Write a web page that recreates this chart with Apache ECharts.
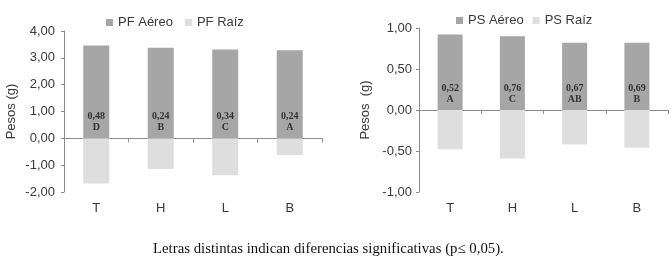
<!DOCTYPE html>
<html><head><meta charset="utf-8">
<script src="https://cdn.jsdelivr.net/npm/echarts@6/dist/echarts.min.js"></script>
<style>html,body{margin:0;padding:0;background:#fff}#c{width:672px;height:266px}</style>
</head><body><div id="c"></div>
<script>
const categories = ['T', 'H', 'L', 'B'];
const pfAereo = [3.46, 3.38, 3.31, 3.28];
const pfRaiz = [-1.68, -1.14, -1.38, -0.62];
const pfLabels = ['0,48\nD', '0,24\nB', '0,34\nC', '0,24\nA'];
const psAereo = [0.92, 0.90, 0.82, 0.82];
const psRaiz = [-0.48, -0.59, -0.42, -0.46];
const psLabels = ['0,52\nA', '0,76\nC', '0,67\nAB', '0,69\nB'];
const caption = 'Letras distintas indican diferencias significativas (p\u2264 0,05).';

const DARK = '#a6a6a6', LIGHT = '#dedede', AX = '#8c8c8c', TXT = '#3a3a3a';
const fmt = v => v.toFixed(2).replace('.', ',');
const chart = echarts.init(document.getElementById('c'));

function xAxes(gi) {
  return [
    { type: 'category', gridIndex: gi, data: categories,
      axisLine: { onZero: true, lineStyle: { color: AX } },
      axisTick: { show: true, length: 4, lineStyle: { color: AX } },
      axisLabel: { show: false } },
    { type: 'category', gridIndex: gi, data: categories, position: 'bottom',
      axisLine: { show: false, onZero: false }, axisTick: { show: false },
      axisLabel: { margin: 10, fontSize: 13, color: TXT, fontFamily: 'Liberation Sans' } }
  ];
}
function yAxis(gi, min, max, interval, name, gap, margin) {
  return { type: 'value', gridIndex: gi, min, max, interval, name,
    nameLocation: 'middle', nameGap: gap,
    nameTextStyle: { fontSize: 13, color: TXT, fontFamily: 'Liberation Sans' },
    splitLine: { show: false },
    axisLine: { show: true, lineStyle: { color: AX } },
    axisTick: { show: true, length: 3, lineStyle: { color: AX } },
    axisLabel: { formatter: fmt, fontSize: 13, color: TXT, margin, fontFamily: 'Liberation Sans' } };
}
function labelSeries(labels) {
  return { show: true, position: 'insideBottom', distance: 5,
    formatter: p => labels[p.dataIndex],
    fontFamily: 'Liberation Serif', fontWeight: 'bold', fontSize: 10, lineHeight: 11, color: '#333' };
}

chart.setOption({
  animation: false,
  grid: [
    { left: 64, right: 350, top: 31, bottom: 74 },
    { left: 419, right: 4, top: 28, bottom: 74 }
  ],
  legend: [
    { data: ['PF Aéreo', 'PF Raíz'], left: 106, top: 16, padding: 0, icon: 'rect', itemWidth: 7, itemHeight: 7, itemGap: 12,
      textStyle: { fontSize: 13, color: TXT, fontFamily: 'Liberation Sans' } },
    { data: ['PS Aéreo', 'PS Raíz'], left: 456, top: 14, padding: 0, icon: 'rect', itemWidth: 7, itemHeight: 7, itemGap: 9,
      textStyle: { fontSize: 13, color: TXT, fontFamily: 'Liberation Sans' } }
  ],
  xAxis: [...xAxes(0), ...xAxes(1)],
  yAxis: [
    yAxis(0, -2, 4, 1, 'Pesos (g)', 46, 9),
    yAxis(1, -1, 1, 0.5, 'Pesos  (g)', 47, 7)
  ],
  series: [
    { name: 'PF Aéreo', type: 'bar', xAxisIndex: 0, yAxisIndex: 0, data: pfAereo, barWidth: 26, barGap: '-100%',
      itemStyle: { color: DARK }, label: labelSeries(pfLabels), z: 3 },
    { name: 'PF Raíz', type: 'bar', xAxisIndex: 0, yAxisIndex: 0, data: pfRaiz, barWidth: 26, barGap: '-100%',
      itemStyle: { color: LIGHT } },
    { name: 'PS Aéreo', type: 'bar', xAxisIndex: 2, yAxisIndex: 1, data: psAereo, barWidth: 25, barGap: '-100%',
      itemStyle: { color: DARK }, label: labelSeries(psLabels), z: 3 },
    { name: 'PS Raíz', type: 'bar', xAxisIndex: 2, yAxisIndex: 1, data: psRaiz, barWidth: 25, barGap: '-100%',
      itemStyle: { color: LIGHT } }
  ],
  graphic: [
    { type: 'text', left: 153, top: 242,
      style: { text: caption, fontFamily: 'Liberation Serif', fontSize: 14.8, fill: '#111' } }
  ]
});
</script></body></html>
